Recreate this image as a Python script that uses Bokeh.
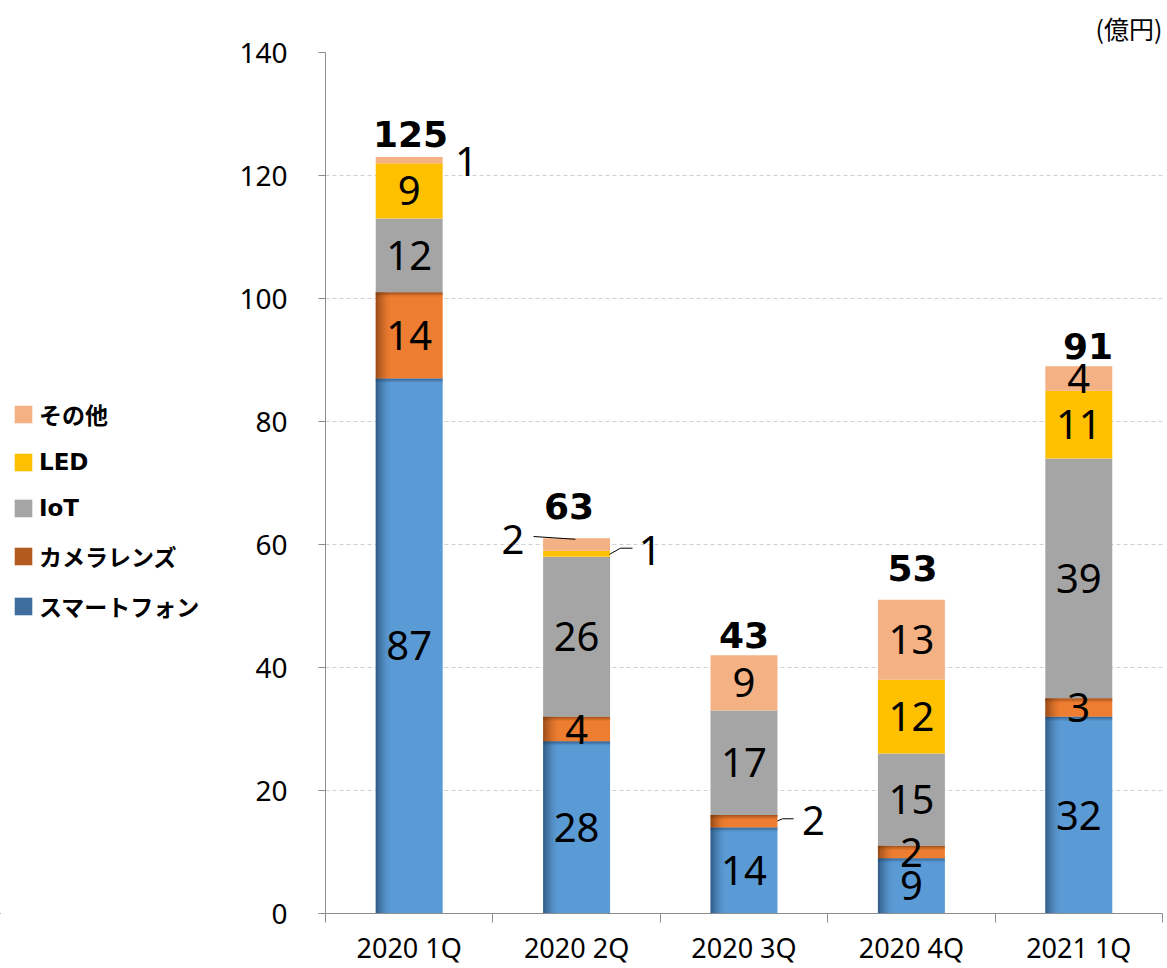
import numpy as np
from bokeh.plotting import figure
from bokeh.layouts import row
from bokeh.models import ColumnDataSource, FixedTicker, Legend, LegendItem, Range1d
from bokeh.core.properties import value
from bokeh.embed import file_html
from bokeh.resources import INLINE

# ---------------- data ----------------
categories = ["2020 1Q", "2020 2Q", "2020 3Q", "2020 4Q", "2021 1Q"]
series_names = ["スマートフォン", "カメラレンズ", "IoT", "LED", "その他"]
smartphone = [87, 28, 14, 9, 32]
camera_lens = [14, 4, 2, 2, 3]
iot = [12, 26, 17, 15, 39]
led = [9, 1, 0, 12, 11]
other = [1, 2, 9, 13, 4]
totals = [125, 63, 43, 53, 91]
y_ticks = [0, 20, 40, 60, 80, 100, 120, 140]
unit_label = "(億円)"

# ---------------- style ----------------
colors = ["#5B9BD5", "#ED7D31", "#A5A5A5", "#FFC000", "#F4B183"]
legend_colors = ["#3F6E9E", "#B35A1F", "#A5A5A5", "#FFC000", "#F4B183"]
shade_colors = {0: "#1C3A5C", 1: "#6B300A"}
bar_w = 0.40
num_font = "Noto Sans"
total_font = "DejaVu Sans"
jp_font = "Noto Sans CJK JP"
legend_font = "DejaVu Sans, Noto Sans CJK JP"
axis_color = "#8C8C8C"
H = 968
LEG_W = 230
MAIN_W = 1165 - LEG_W

n = len(categories)
xs = [i + 0.5 for i in range(n)]
series = [smartphone, camera_lens, iot, led, other]
keys = ["s0", "s1", "s2", "s3", "s4"]

data = {"x": xs}
for k, s in zip(keys, series):
    data[k] = s
src = ColumnDataSource(data)

p = figure(width=MAIN_W, height=H, output_backend="svg", toolbar_location=None,
           x_range=Range1d(0, n), y_range=Range1d(0, 140),
           min_border_left=325 - LEG_W, min_border_right=3, min_border_top=50, min_border_bottom=53,
           title=unit_label, title_location="above")
p.outline_line_color = None
p.background_fill_color = "white"
p.border_fill_color = "white"
p.title.align = "right"
p.title.text_font = jp_font
p.title.text_font_size = "25px"
p.title.text_font_style = "normal"
p.title.text_color = "black"
p.title.offset = 0
p.title.standoff = 14

# grid
p.xgrid.grid_line_color = None
p.ygrid.ticker = FixedTicker(ticks=y_ticks[1:])
p.ygrid.grid_line_color = "#D0D0D0"
p.ygrid.grid_line_dash = "4 3"
p.ygrid.grid_line_width = 1

# bars
renderers = p.vbar_stack(keys, x="x", width=bar_w, source=src, color=colors, line_color=None)

# cumulative positions
cum = np.zeros(n)
bottoms, tops = [], []
for s in series:
    b = cum.copy()
    cum = cum + np.array(s)
    bottoms.append(b)
    tops.append(cum.copy())

# inner shading on smartphone & camera segments
sw = 0.014
th = 0.22
for si in (0, 1):
    col = shade_colors[si]
    xl = [x - bar_w / 2 for x in xs]
    for k, a in enumerate([0.6, 0.45, 0.32, 0.2, 0.1, 0.04]):
        p.quad(left=[x + k * sw for x in xl], right=[x + (k + 1) * sw for x in xl],
               bottom=list(bottoms[si]), top=list(tops[si]),
               fill_color=col, fill_alpha=a, line_color=None)
    for k, a in enumerate([0.5, 0.3, 0.12]):
        p.quad(left=xl, right=[x + bar_w for x in xl],
               top=[t - k * th for t in tops[si]], bottom=[t - (k + 1) * th for t in tops[si]],
               fill_color=col, fill_alpha=a, line_color=None)

# segment labels
outside = {  # (series, category): (dx, dy)
    (4, 0): (0.342, -0.3),
    (4, 1): (-0.38, 0.8),
    (3, 1): (0.44, 0.6),
    (1, 2): (0.415, 0.05),
}
leaders = {  # (series, category): points relative to segment centre
    (4, 1): [(-0.257, 1.3), (-0.007, 0.85)],
    (3, 1): [(0.197, -0.1), (0.262, 0.9), (0.334, 0.9)],
    (1, 2): [(0.20, 0.05), (0.23, 0.4), (0.296, 0.4)],
}
lx, ly, lt = [], [], []
for si, s in enumerate(series):
    for ci, v in enumerate(s):
        if v == 0:
            continue
        cx = xs[ci]
        cy = (bottoms[si][ci] + tops[si][ci]) / 2
        dx, dy = outside.get((si, ci), (0, 0))
        lx.append(cx + dx)
        ly.append(cy + dy)
        lt.append(str(v))
        if (si, ci) in leaders:
            pts = leaders[(si, ci)]
            p.line([cx + a for a, b in pts], [cy + b for a, b in pts], line_color="black", line_width=1)

p.text(x=lx, y=ly, text=lt, text_font=value(num_font), text_font_size="40px",
       text_align="center", text_baseline="middle", text_color="black")

# totals
tot_dx = [0.008, -0.045, 0.0, 0.007, 0.055]
tot_dy = [3.8, 5.2, 3.3, 5.2, 3.3]
p.text(x=[xs[i] + tot_dx[i] for i in range(n)],
       y=[tops[4][i] + tot_dy[i] for i in range(n)],
       text=[str(t) for t in totals], text_font=value(total_font), text_font_size="36px",
       text_font_style="bold", text_align="center", text_baseline="middle", text_color="black")

# axes
xa = p.xaxis[0]
xa.ticker = FixedTicker(ticks=xs, minor_ticks=list(range(n + 1)))
xa.major_label_overrides = {x: c for x, c in zip(xs, categories)}
xa.major_tick_line_color = None
xa.major_tick_out = 0
xa.major_tick_in = 0
xa.minor_tick_out = 9
xa.minor_tick_in = 0
xa.minor_tick_line_color = axis_color
xa.axis_line_color = axis_color
xa.major_label_text_font = num_font
xa.major_label_text_font_size = "27px"
xa.major_label_text_color = "black"
xa.major_label_standoff = 6

ya = p.yaxis[0]
ya.ticker = FixedTicker(ticks=y_ticks)
ya.minor_tick_line_color = None
ya.major_tick_out = 7
ya.major_tick_in = 0
ya.major_tick_line_color = axis_color
ya.axis_line_color = axis_color
ya.major_label_text_font = num_font
ya.major_label_text_font_size = "28px"
ya.major_label_text_color = "black"
ya.major_label_standoff = 31

# legend figure (left): proxy renderers on the same data, outside the visible range
lf = figure(width=LEG_W, height=H, output_backend="svg", toolbar_location=None,
            x_axis_location=None, y_axis_location=None,
            x_range=Range1d(1000, 1001), y_range=Range1d(1000, 1001),
            min_border_left=0, min_border_right=0, min_border_top=0, min_border_bottom=0)
lf.outline_line_color = None
lf.grid.grid_line_color = None
lf.background_fill_color = "white"
lf.border_fill_color = "white"
proxies = []
for k, c in zip(keys, legend_colors):
    proxies.append(lf.vbar(x="x", top=k, width=bar_w, source=src, fill_color=c, line_color=None))
order = [4, 3, 2, 1, 0]
legend = Legend(items=[LegendItem(label=series_names[i], renderers=[proxies[i]]) for i in order],
                location=(12, 290), orientation="vertical",
                label_text_font=legend_font, label_text_font_size="23px", label_text_font_style="bold",
                label_text_color="black", glyph_width=22, glyph_height=22, label_height=30,
                spacing=16, label_standoff=5, padding=0, margin=0,
                border_line_color=None, background_fill_alpha=0)
lf.add_layout(legend)

layout = row(lf, p, spacing=0)
open("out.html", "w").write(file_html(layout, INLINE))
